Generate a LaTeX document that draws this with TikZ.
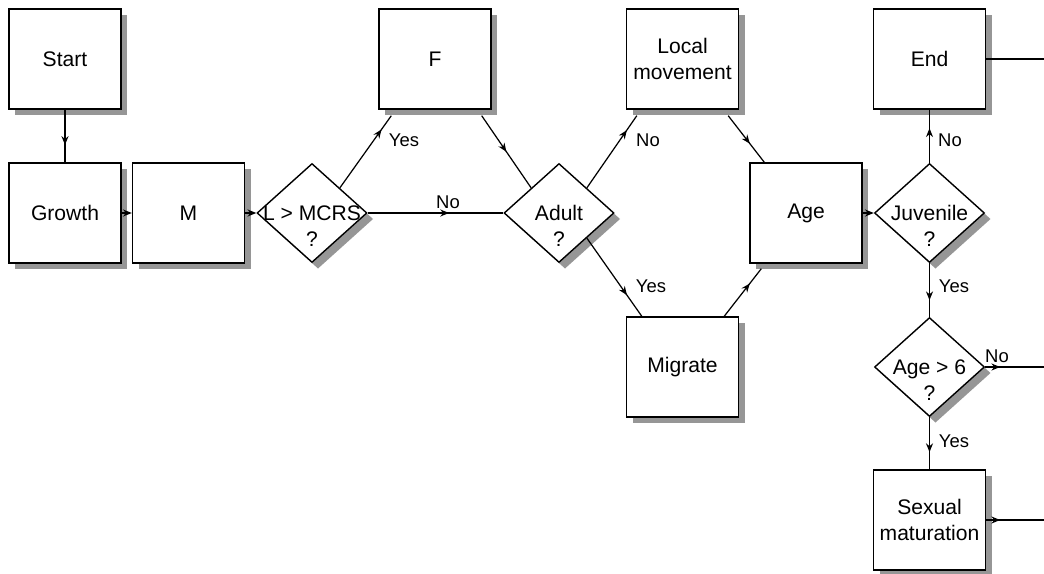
\documentclass[tikz,border=0pt]{standalone}
\usepackage{fontspec}
\setmainfont{Liberation Sans}
\usetikzlibrary{shapes.geometric,arrows.meta,decorations.markings}

\definecolor{cinzaSombra}{RGB}{150,150,150}

\tikzset{
    >={Stealth[length=5pt,width=4pt]},
    sombra/.style={fill=cinzaSombra, draw=none},
    caixa/.style={draw, line width=0.8pt, fill=white,
        minimum width=2.24cm, minimum height=2cm, align=center,
        font=\fontsize{12}{15}\selectfont},
    decisao/.style={diamond, draw, line width=0.8pt, fill=white, inner sep=0pt,
        minimum width=2.2cm, minimum height=1.98cm,
        label={[font=\fontsize{12}{15}\selectfont, align=center, yshift=-0.26cm]center:#1}},
    ligacao/.style={line width=0.7pt},
    seta/.style={decoration={markings, mark=at position #1 with {\arrow{>}}}, postaction={decorate}},
    rotulo/.style={font=\fontsize{10.5}{12}\selectfont, inner sep=0pt},
}

\begin{document}
\begin{tikzpicture}[x=0.02cm, y=-0.02cm]
    \def\linhaSuperior{59}
    \def\linhaCentral{213}
    \def\linhaInferior{367}
    \def\colunaDireita{929.5}

    \useasboundingbox (0,0) rectangle (1044,574);

    %sombras
    \foreach \x/\y in {65/59, 65/213, 188.5/213, 435/59, 682.5/59, 682.5/367, 806/213, 929.5/59, 929.5/520} {
        \fill[sombra] (\x-50,\y-44) rectangle (\x+62,\y+56);
    }
    \foreach \x/\y in {312/213, 559/213, 929.5/213, 929.5/367} {
        \fill[sombra] (\x+6,\y-43.5) -- (\x+61,\y+6) -- (\x+6,\y+55.5) -- (\x-49,\y+6) -- cycle;
    }

    %caixas
    \node[caixa] (inicio) at (65,\linhaSuperior) {Start};
    \node[caixa] (crescimento) at (65,\linhaCentral) {Growth};
    \node[caixa] (m) at (188.5,\linhaCentral) {M};
    \node[caixa] (f) at (435,\linhaSuperior) {F};
    \node[caixa] (local) at (682.5,\linhaSuperior) {Local\\movement};
    \node[caixa] (migrar) at (682.5,\linhaInferior) {Migrate};
    \node[caixa] (idade) at (806,\linhaCentral) {Age};
    \node[caixa] (fim) at (\colunaDireita,\linhaSuperior) {End};
    \node[caixa] (maturacao) at (\colunaDireita,520) {Sexual\\maturation};

    %decisoes
    \node[decisao={L > MCRS\\?}] (mcrs) at (312,\linhaCentral) {};
    \node[decisao={Adult\\?}] (adulto) at (559,\linhaCentral) {};
    \node[decisao={Juvenile\\?}] (juvenil) at (\colunaDireita,\linhaCentral) {};
    \node[decisao={Age > 6\\?}] (idade6) at (\colunaDireita,\linhaInferior) {};

    \coordinate (saidaFim) at (1044,\linhaSuperior);
    \coordinate (saidaIdade) at (1044,\linhaInferior);
    \coordinate (saidaMaturacao) at (1044,520);

    %ligacoes
    \draw[ligacao, seta=0.67] (inicio) -- (crescimento);
    \draw[ligacao, ->] (crescimento) -- (m);
    \draw[ligacao, ->] (m) -- (mcrs);
    \draw[ligacao, seta=0.81] (mcrs.north east) -- ([xshift=0.26cm,yshift=-0.12cm]f.south west);
    \draw[ligacao, seta=0.6] (mcrs.east) -- (adulto.west);
    \draw[ligacao, seta=0.5] ([xshift=-0.2cm,yshift=-0.12cm]f.south east) -- (adulto.north west);
    \draw[ligacao, seta=0.8] (adulto.north east) -- ([xshift=0.22cm,yshift=-0.12cm]local.south west);
    \draw[ligacao, seta=0.6] ([xshift=-0.22cm,yshift=-0.12cm]local.south east) -- ([xshift=0.3cm]idade.north west);
    \draw[ligacao, seta=0.73] (adulto.south east) -- ([xshift=0.32cm]migrar.north west);
    \draw[ligacao, seta=0.69] ([xshift=-0.3cm]migrar.north east) -- ([xshift=0.24cm,yshift=-0.1cm]idade.south west);
    \draw[ligacao, ->] (idade) -- (juvenil);
    \draw[ligacao, seta=0.65] (juvenil.north) -- (fim.south);
    \draw[ligacao, seta=0.69] (juvenil.south) -- (idade6.north);
    \draw[ligacao, seta=0.67] (idade6.south) -- (maturacao.north);
    \draw[ligacao, seta=0.3cm] (idade6.east) -- (saidaIdade);
    \draw[ligacao, seta=0.28cm] (maturacao.east) -- (saidaMaturacao);
    \draw[ligacao] (fim.east) -- (saidaFim);

    \foreach \nome/\x/\y/\texto in {
        simF/404/140/Yes, naoAdulto/448/202/No, naoLocal/648/140/No, simMigrar/651/286/Yes,
        naoFim/950/140/No, simIdade/954/286/Yes, naoSaida/997/356/No, simMaturacao/954/441/Yes
    } {
        \node[rotulo] (\nome) at (\x,\y) {\texto};
    }
\end{tikzpicture}
\end{document}
